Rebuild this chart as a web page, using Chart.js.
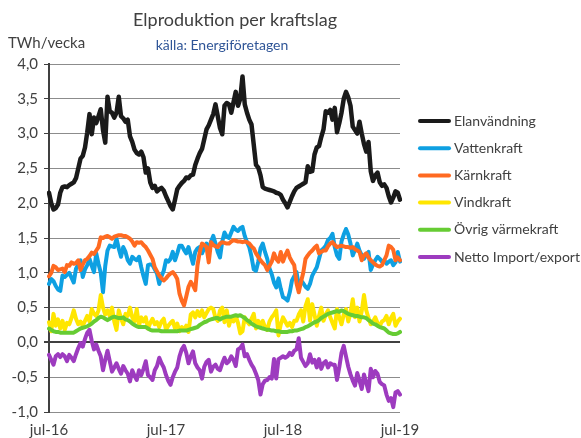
<!DOCTYPE html>
<html>
<head>
<meta charset="utf-8">
<script src="https://cdn.jsdelivr.net/npm/chart.js@4"></script>
<style>
  html, body { margin: 0; padding: 0; background: #fff; }
</style>
</head>
<body>
<canvas id="elChart" width="581" height="438"></canvas>
<script>
// Weekly values, jul-16 .. jul-19 (TWh/vecka)
const tickLabels = ['jul-16', 'jul-17', 'jul-18', 'jul-19'];
const weeksPerYear = 52;

const elanvandning = [
  2.15,2.00,1.91,1.93,1.98,2.15,2.23,2.24,2.23,2.26,
  2.28,2.30,2.36,2.50,2.64,2.68,2.80,3.02,3.28,2.99,
  3.23,3.15,3.25,3.35,3.05,2.87,3.53,3.32,3.30,3.23,
  3.30,3.53,3.25,3.22,3.17,3.20,2.96,2.88,2.77,2.72,
  2.70,2.74,2.66,2.44,2.50,2.30,2.22,2.25,2.17,2.20,
  2.22,2.18,2.10,2.03,1.96,1.91,2.05,2.20,2.25,2.29,
  2.32,2.37,2.36,2.40,2.41,2.55,2.64,2.72,2.78,2.92,
  3.06,3.12,3.20,3.28,3.42,3.25,3.08,2.99,3.40,3.44,
  3.42,3.30,3.45,3.60,3.40,3.50,3.82,3.42,3.30,3.20,
  3.13,2.84,2.55,2.51,2.40,2.23,2.21,2.20,2.19,2.18,
  2.17,2.15,2.14,2.12,2.05,2.00,1.94,2.02,2.10,2.17,
  2.22,2.24,2.26,2.28,2.30,2.53,2.45,2.46,2.70,2.80,
  2.82,2.95,3.06,3.32,3.30,3.34,3.20,3.37,3.02,3.15,
  3.30,3.50,3.60,3.52,3.40,3.10,3.05,3.00,3.17,3.00,
  2.85,2.74,2.88,2.46,2.32,2.40,2.44,2.30,2.25,2.27,
  2.22,2.10,2.01,2.08,2.17,2.15,2.05
];

const vattenkraft = [
  0.84,0.91,0.88,0.81,0.76,0.74,0.96,0.94,0.97,1.00,
  0.93,0.86,1.06,1.12,1.18,0.94,1.05,1.11,1.20,1.10,
  1.01,1.28,1.13,1.00,0.72,1.10,1.32,1.39,1.38,1.37,
  1.49,1.35,1.23,1.37,1.30,1.18,1.13,1.23,1.20,1.18,
  1.23,1.08,0.95,0.84,1.11,1.12,1.11,1.05,0.99,0.84,
  0.95,1.03,1.18,1.16,1.20,1.30,1.18,1.28,1.39,1.39,
  1.33,1.28,1.37,1.25,1.13,1.30,1.35,1.37,1.28,1.35,
  1.42,1.30,1.45,1.53,1.42,1.30,1.22,1.45,1.58,1.52,
  1.50,1.58,1.66,1.62,1.60,1.64,1.66,1.53,1.44,1.37,
  1.23,1.05,1.03,1.16,1.35,1.42,1.30,1.20,1.06,0.98,
  0.86,0.79,0.92,0.77,0.65,0.63,0.60,0.72,0.89,0.95,
  1.01,0.82,0.89,0.85,0.80,0.77,0.84,0.96,1.02,1.08,
  1.20,1.32,1.35,1.39,1.47,1.50,1.56,1.37,1.25,1.20,
  1.45,1.55,1.63,1.55,1.42,1.25,1.33,1.42,1.32,1.25,
  1.20,1.26,1.30,1.04,1.12,1.18,1.23,1.20,1.16,1.18,
  1.13,1.16,1.18,1.11,1.15,1.30,1.16
];

const karnkraft = [
  0.95,1.00,1.10,1.08,1.04,1.05,1.06,1.01,1.11,1.10,
  1.15,1.13,1.14,1.18,1.04,1.12,1.18,1.20,1.24,1.29,
  1.27,1.32,1.37,1.51,1.50,1.52,1.53,1.51,1.49,1.52,
  1.53,1.54,1.54,1.53,1.53,1.51,1.49,1.45,1.39,1.44,
  1.43,1.44,1.40,1.37,1.32,1.26,1.20,1.08,1.02,0.96,
  0.92,0.89,0.92,0.96,0.99,1.01,0.97,0.91,0.70,0.60,
  0.53,0.66,0.80,0.87,0.82,0.75,1.11,1.30,1.42,1.40,
  1.37,1.15,1.44,1.40,1.38,1.37,1.42,1.44,1.43,1.42,
  1.42,1.45,1.47,1.46,1.45,1.45,1.44,1.45,1.44,1.42,
  1.38,1.35,1.28,1.23,1.18,1.14,1.11,1.04,1.10,1.16,
  1.28,1.20,1.16,1.30,1.16,1.25,1.32,1.22,1.16,1.11,
  0.85,0.72,0.87,1.00,1.20,1.25,1.29,1.32,1.36,1.39,
  1.28,1.30,1.32,1.32,1.38,1.42,1.44,1.40,1.37,1.38,
  1.39,1.38,1.37,1.37,1.36,1.37,1.34,1.32,1.30,1.18,
  1.25,1.28,1.22,1.18,1.15,1.12,1.10,1.09,1.11,1.18,
  1.25,1.39,1.37,1.33,1.18,1.22,1.18
];

const vindkraft = [
  0.29,0.16,0.41,0.24,0.33,0.20,0.31,0.18,0.28,0.26,
  0.35,0.46,0.34,0.26,0.30,0.24,0.31,0.38,0.30,0.48,
  0.41,0.38,0.46,0.68,0.50,0.40,0.46,0.38,0.50,0.30,
  0.18,0.46,0.35,0.26,0.41,0.38,0.50,0.36,0.30,0.48,
  0.24,0.36,0.30,0.36,0.20,0.28,0.34,0.26,0.29,0.22,
  0.30,0.34,0.18,0.24,0.28,0.31,0.20,0.27,0.16,0.22,
  0.18,0.24,0.15,0.40,0.43,0.36,0.45,0.38,0.46,0.36,
  0.42,0.48,0.50,0.48,0.35,0.31,0.46,0.50,0.29,0.46,
  0.24,0.36,0.30,0.38,0.28,0.13,0.16,0.36,0.30,0.26,
  0.34,0.41,0.20,0.31,0.25,0.31,0.22,0.18,0.30,0.36,
  0.40,0.46,0.10,0.26,0.36,0.30,0.24,0.28,0.22,0.31,
  0.31,0.40,0.46,0.30,0.52,0.62,0.31,0.55,0.40,0.24,
  0.38,0.50,0.31,0.40,0.46,0.36,0.28,0.20,0.48,0.36,
  0.26,0.40,0.48,0.30,0.42,0.62,0.36,0.50,0.30,0.45,
  0.68,0.46,0.35,0.26,0.30,0.36,0.28,0.24,0.30,0.32,
  0.38,0.26,0.35,0.41,0.24,0.30,0.34
];

const ovrigVarme = [
  0.20,0.18,0.16,0.15,0.15,0.14,0.14,0.14,0.14,0.14,
  0.14,0.14,0.16,0.18,0.20,0.21,0.22,0.23,0.25,0.27,
  0.30,0.32,0.35,0.37,0.36,0.34,0.32,0.34,0.36,0.37,
  0.36,0.35,0.35,0.36,0.33,0.32,0.30,0.27,0.25,0.23,
  0.22,0.22,0.22,0.22,0.20,0.18,0.17,0.17,0.17,0.17,
  0.16,0.16,0.16,0.16,0.16,0.16,0.16,0.16,0.17,0.17,
  0.17,0.17,0.18,0.19,0.20,0.21,0.22,0.25,0.27,0.29,
  0.30,0.32,0.33,0.34,0.35,0.35,0.33,0.35,0.36,0.37,
  0.37,0.37,0.38,0.39,0.38,0.39,0.37,0.35,0.32,0.30,
  0.27,0.25,0.23,0.22,0.21,0.20,0.19,0.18,0.18,0.17,
  0.17,0.16,0.16,0.15,0.15,0.15,0.15,0.16,0.16,0.17,
  0.17,0.18,0.19,0.20,0.22,0.23,0.25,0.27,0.29,0.30,
  0.32,0.35,0.37,0.39,0.41,0.42,0.43,0.44,0.45,0.44,
  0.46,0.45,0.43,0.41,0.40,0.39,0.38,0.38,0.37,0.36,
  0.36,0.35,0.32,0.30,0.27,0.26,0.24,0.22,0.21,0.20,
  0.17,0.14,0.13,0.12,0.12,0.13,0.15
];

const nettoImport = [
  -0.18,-0.25,-0.32,-0.20,-0.17,-0.21,-0.17,-0.20,-0.27,-0.18,
  -0.22,-0.27,-0.17,-0.08,-0.01,-0.06,0.05,0.14,0.18,0.02,
  -0.10,-0.03,-0.12,-0.20,-0.40,-0.25,-0.12,-0.27,-0.42,-0.36,
  -0.30,-0.38,-0.45,-0.34,-0.40,-0.45,-0.56,-0.40,-0.48,-0.54,
  -0.40,-0.47,-0.38,-0.27,-0.47,-0.50,-0.54,-0.40,-0.34,-0.22,
  -0.30,-0.36,-0.47,-0.55,-0.61,-0.50,-0.42,-0.36,-0.20,-0.10,
  -0.05,-0.15,-0.30,-0.20,-0.13,-0.30,-0.36,-0.40,-0.52,-0.35,
  -0.28,-0.25,-0.42,-0.35,-0.32,-0.38,-0.40,-0.30,-0.22,-0.30,
  -0.27,-0.20,-0.25,-0.34,-0.10,-0.08,-0.03,-0.20,-0.17,-0.25,
  -0.32,-0.37,-0.45,-0.54,-0.75,-0.60,-0.55,-0.54,-0.50,-0.52,
  -0.24,-0.52,-0.24,-0.22,-0.20,-0.22,-0.20,-0.15,-0.18,-0.12,
  -0.10,0.06,-0.22,-0.28,-0.34,-0.30,-0.17,-0.29,-0.25,-0.36,
  -0.24,-0.38,-0.30,-0.27,-0.36,-0.30,-0.32,-0.32,-0.54,-0.36,
  -0.15,-0.05,-0.20,-0.35,-0.46,-0.55,-0.62,-0.44,-0.55,-0.67,
  -0.46,-0.58,-0.70,-0.38,-0.50,-0.41,-0.45,-0.57,-0.60,-0.62,
  -0.75,-0.84,-0.80,-0.93,-0.72,-0.70,-0.75
];

const seriesNames = ['Elanvändning', 'Vattenkraft', 'Kärnkraft', 'Vindkraft', 'Övrig värmekraft', 'Netto Import/export'];
const seriesColors = ['#1a1a1a', '#0ea0e2', '#ff6a21', '#ffe600', '#66cc33', '#9d3bbf'];
const seriesData = [elanvandning, vattenkraft, karnkraft, vindkraft, ovrigVarme, nettoImport];

const weekIndex = elanvandning.map((v, i) => i);

Chart.defaults.font.family = 'Lato, "Open Sans", sans-serif';
Chart.defaults.font.size = 15;
Chart.defaults.color = '#404040';

// title, source, unit label and legend drawn next to the plot
const textPlugin = {
  id: 'texts',
  afterDraw(chart) {
    const c = chart.ctx;
    c.save();
    c.textBaseline = 'middle';
    c.textAlign = 'center';
    c.fillStyle = '#404040';
    c.font = '18px Lato';
    c.fillText('Elproduktion per kraftslag', 235, 20);
    c.fillStyle = '#2f5597';
    c.font = '14px Lato';
    c.fillText('källa: Energiföretagen', 222, 45);
    c.textAlign = 'left';
    c.fillStyle = '#404040';
    c.font = '15px Lato';
    c.fillText('TWh/vecka', 8, 43);

    chart.data.datasets.forEach((ds, i) => {
      const y = 121 + i * 27.2;
      c.strokeStyle = ds.borderColor;
      c.lineWidth = 4;
      c.lineCap = 'round';
      c.beginPath();
      c.moveTo(420, y);
      c.lineTo(449, y);
      c.stroke();
      c.fillStyle = '#404040';
      c.font = '14px Lato';
      c.fillText(ds.label, 454, y);
    });
    c.restore();
  }
};

const ctx = document.getElementById('elChart').getContext('2d');
new Chart(ctx, {
  type: 'line',
  data: {
    labels: weekIndex,
    datasets: seriesData.map((d, i) => ({
      label: seriesNames[i],
      data: d,
      borderColor: seriesColors[i],
      backgroundColor: seriesColors[i],
      borderWidth: i === 0 ? 4.5 : 4,
      pointRadius: 0,
      tension: 0,
      borderJoinStyle: 'round',
      borderCapStyle: 'round',
      order: seriesData.length - i
    }))
  },
  options: {
    responsive: false,
    animation: false,
    layout: { padding: { top: 64, right: 181, left: 0, bottom: 0 } },
    plugins: {
      legend: { display: false },
      tooltip: { enabled: false }
    },
    scales: {
      x: {
        type: 'category',
        offset: false,
        grid: { display: false, drawTicks: false },
        border: { display: false },
        ticks: {
          autoSkip: false,
          maxRotation: 0,
          padding: 9,
          callback: (val, idx) => (idx % weeksPerYear === 0 ? tickLabels[idx / weeksPerYear] : '')
        },
        afterFit: s => { s.height = 26; }
      },
      y: {
        min: -1,
        max: 4,
        ticks: {
          stepSize: 0.5,
          padding: 6,
          callback: v => v.toFixed(1).replace('.', ',')
        },
        grid: {
          color: c => (c.tick && c.tick.value === 0 ? '#404040' : '#8c8c8c'),
          lineWidth: c => (c.tick && c.tick.value === 0 ? 2 : 1),
          tickColor: '#404040',
          tickLength: 5
        },
        border: { color: '#404040', width: 2 },
        afterFit: s => { s.width = 49; }
      }
    }
  },
  plugins: [textPlugin]
});
</script>
</body>
</html>
